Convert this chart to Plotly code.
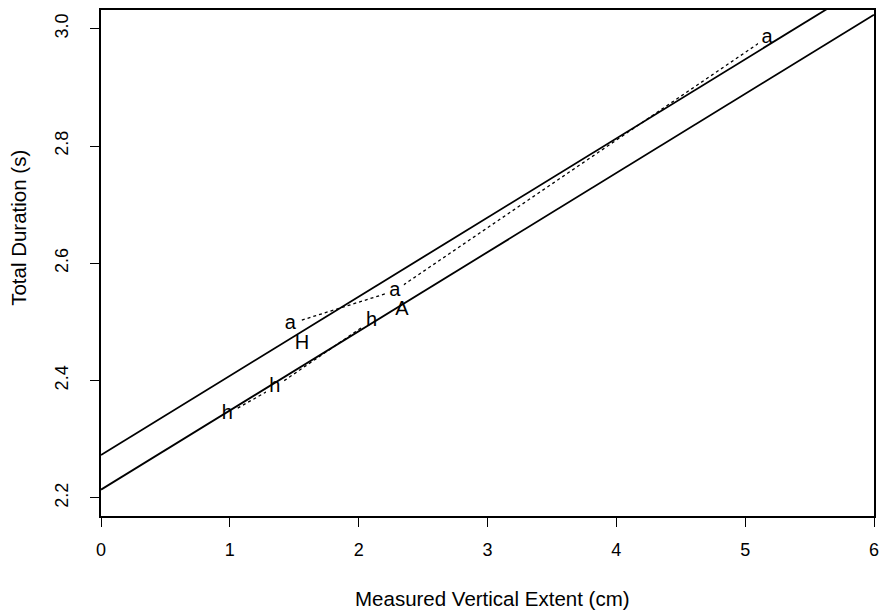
import plotly.graph_objects as go

# Fitted duration-vs-extent lines (intercept, slope)
fit_intercepts = [2.273, 2.214]
fit_slope = 0.135
fit_x = [0, 6]

# "h" condition means
h_x = [0.98, 1.35, 2.10]
h_y = [2.343, 2.389, 2.502]

# "a" condition means
a_x = [1.47, 2.28, 5.17]
a_y = [2.497, 2.553, 2.985]

# Single-point conditions
single_labels = ["H", "A"]
single_x = [1.56, 2.335]
single_y = [2.463, 2.521]

x_ticks = [0, 1, 2, 3, 4, 5, 6]
y_ticks = [2.2, 2.4, 2.6, 2.8, 3.0]

FONT = "Liberation Sans, Arial, Helvetica, sans-serif"
LETTER_SIZE = 20

fig = go.Figure()

# Dotted series with letter symbols; white squares under the letters
# leave a gap in the connecting line, like R's type="b".
for label, xs, ys in [("h", h_x, h_y), ("a", a_x, a_y)]:
    fig.add_trace(go.Scatter(
        x=xs, y=ys, mode="lines+markers+text",
        text=[label] * len(xs), textposition="middle center",
        textfont=dict(family=FONT, size=LETTER_SIZE, color="black"),
        marker=dict(symbol="square", size=18, color="white",
                    line=dict(width=0)),
        line=dict(color="black", width=1.3, dash="dot"),
        showlegend=False, cliponaxis=False,
    ))

fig.add_trace(go.Scatter(
    x=single_x, y=single_y, mode="text", text=single_labels,
    textposition="middle center",
    textfont=dict(family=FONT, size=LETTER_SIZE, color="black"),
    showlegend=False, cliponaxis=False,
))

for b in fit_intercepts:
    fig.add_trace(go.Scatter(
        x=fit_x, y=[b + fit_slope * v for v in fit_x], mode="lines",
        line=dict(color="black", width=1.8), showlegend=False,
    ))

axis_common = dict(
    showline=True, mirror=True, linecolor="black", linewidth=2,
    ticks="outside", ticklen=9, tickwidth=1.4, tickcolor="black",
    showgrid=False, zeroline=False, automargin=False,
    tickfont=dict(family=FONT, size=18, color="black"),
)

fig.update_layout(
    width=884, height=615,
    margin=dict(l=101, r=10, t=10, b=99),
    plot_bgcolor="white", paper_bgcolor="white",
    xaxis=dict(
        range=[0, 6], tickvals=x_ticks, ticktext=[str(v) for v in x_ticks],
        ticklabelstandoff=7,
        **axis_common,
    ),
    yaxis=dict(
        range=[2.169, 3.032], tickvals=y_ticks,
        ticktext=[f"{v:.1f}" for v in y_ticks], tickangle=-90,
        ticklabelstandoff=15,
        **axis_common,
    ),
    annotations=[
        dict(text="Measured Vertical Extent (cm)", xref="paper", yref="paper",
             x=0.507, y=-0.163, xanchor="center", yanchor="middle",
             showarrow=False, font=dict(family=FONT, size=20.5, color="black")),
        dict(text="Total Duration (s)", xref="paper", yref="paper",
             x=-0.107, y=0.57, xanchor="center", yanchor="middle",
             textangle=-90, showarrow=False,
             font=dict(family=FONT, size=20.5, color="black")),
    ],
)

fig.write_html("out.html")
